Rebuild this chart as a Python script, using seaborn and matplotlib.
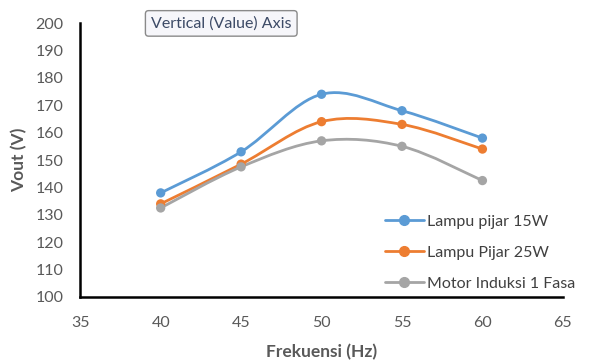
import numpy as np
import pandas as pd
import matplotlib
matplotlib.use("Agg")
import matplotlib.pyplot as plt
from matplotlib.path import Path
from matplotlib.patches import PathPatch
from matplotlib.lines import Line2D
import seaborn as sns

# Data
frekuensi = [40, 45, 50, 55, 60]
lampu_15w = [138, 153, 174, 168, 158]
lampu_25w = [134, 148.5, 164, 163, 154]
motor_1fasa = [132.5, 147.5, 157, 155, 142.5]

series_names = ['Lampu pijar 15W', 'Lampu Pijar 25W', 'Motor Induksi 1 Fasa']
series_values = [lampu_15w, lampu_25w, motor_1fasa]
colors = ['#5B9BD5', '#ED7D31', '#A5A5A5']

x_ticks = [35, 40, 45, 50, 55, 60, 65]
y_ticks = list(range(100, 201, 10))

sns.set_style("white")
plt.rcParams['font.family'] = ['Lato', 'DejaVu Sans']

df = pd.DataFrame({
    'Frekuensi': frekuensi * 3,
    'Vout': lampu_15w + lampu_25w + motor_1fasa,
    'Seri': sum([[n] * len(frekuensi) for n in series_names], []),
})


def smooth_path(xs, ys):
    # Excel-like smoothed line: cubic Bezier segments (Catmull-Rom control points)
    pts = np.column_stack([xs, ys]).astype(float)
    n = len(pts)
    verts = [pts[0]]
    codes = [Path.MOVETO]
    for i in range(n - 1):
        p0 = pts[i - 1] if i > 0 else pts[i]
        p1 = pts[i]
        p2 = pts[i + 1]
        p3 = pts[i + 2] if i + 2 < n else pts[i + 1]
        c1 = p1 + (p2 - p0) / 6.0
        c2 = p2 - (p3 - p1) / 6.0
        verts += [c1, c2, p2]
        codes += [Path.CURVE4] * 3
    return Path(verts, codes)


fig = plt.figure(figsize=(5.9, 3.6), dpi=100)
ax = fig.add_axes([0.136, 0.175, 0.818, 0.761])

for name, vals, c in zip(series_names, series_values, colors):
    ax.add_patch(PathPatch(smooth_path(frekuensi, vals), facecolor='none',
                           edgecolor=c, linewidth=2.0, capstyle='round', zorder=2))

sns.scatterplot(data=df, x='Frekuensi', y='Vout', hue='Seri', palette=colors,
                s=45, edgecolor='none', legend=False, ax=ax, zorder=3)

ax.set_xlim(35, 65)
ax.set_ylim(100, 200)
ax.set_xticks(x_ticks)
ax.set_yticks(y_ticks)
ax.tick_params(axis='both', length=0, labelsize=11.5, colors='#595959')
ax.tick_params(axis='y', pad=12)
ax.tick_params(axis='x', pad=14)

for s in ['top', 'right']:
    ax.spines[s].set_visible(False)
for s in ['left', 'bottom']:
    ax.spines[s].set_color('black')
    ax.spines[s].set_linewidth(1.8)

ax.set_xlabel('Frekuensi (Hz)', fontsize=12.5, fontweight='bold', color='#595959', labelpad=10)
ax.set_ylabel('Vout (V)', fontsize=12.5, fontweight='bold', color='#595959', labelpad=6)

handles = [Line2D([0], [0], color=c, linewidth=2.0, marker='o', markersize=7)
           for c in colors]
ax.legend(handles, series_names, loc='lower right', bbox_to_anchor=(1.055, -0.03),
          frameon=False, fontsize=11.5, labelcolor='#404040', handlelength=2.4,
          handletextpad=0.2, labelspacing=1.05)

fig.text(0.375, 0.935, 'Vertical (Value) Axis', fontsize=11.5, color='#3c4a66',
         ha='center', va='center',
         bbox=dict(boxstyle='round,pad=0.35,rounding_size=0.2', facecolor='#f6f6fa',
                   edgecolor='#8a8a8a', linewidth=1.0))

fig.savefig('out.png', dpi=100)
